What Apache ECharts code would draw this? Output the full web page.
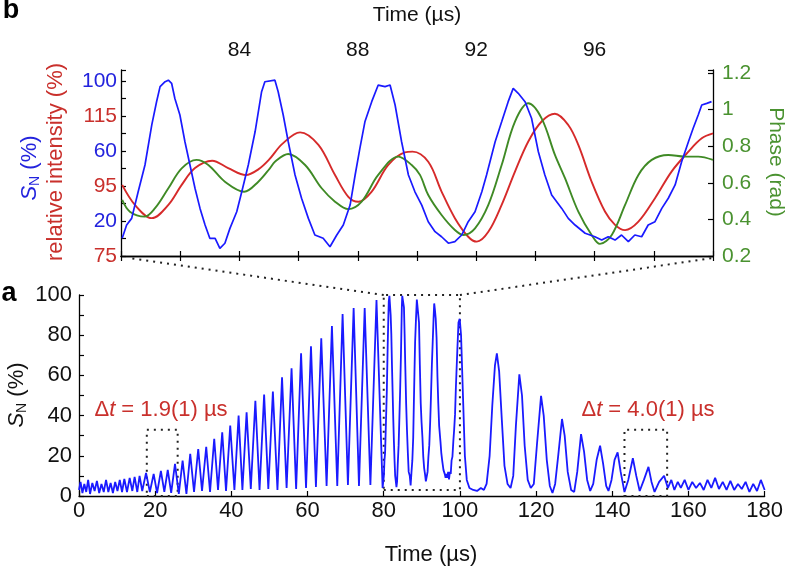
<!DOCTYPE html>
<html>
<head>
<meta charset="utf-8">
<script src="https://cdn.jsdelivr.net/npm/echarts@6/dist/echarts.min.js"></script>
<style>html,body{margin:0;padding:0;background:#fff}#c{width:786px;height:573px}</style>
</head>
<body>
<div id="c"></div>
<script>
// ---------- DATA ----------
// Panel b (zoom 80–100 µs): blue S_N (%), red relative intensity (%), green phase (rad)
const zoomBlue = [[80.04,10.1],[80.19,17.7],[80.36,21.5],[80.58,36.7],[80.81,52],[81.04,74.9],[81.2,88],[81.32,96.8],[81.49,99.6],[81.6,100.5],[81.71,98.7],[81.82,90],[81.99,80.6],[82.16,65.3],[82.33,52],[82.5,38.7],[82.67,27.2],[82.84,17.7],[83.0,10.1],[83.18,10.1],[83.34,4.4],[83.51,7.3],[83.68,15.8],[83.91,25.3],[84.08,36.7],[84.3,52],[84.53,71],[84.75,93.9],[84.86,99.6],[85.2,100.5],[85.31,93.9],[85.48,80.6],[85.65,65.3],[85.88,46.3],[86.1,33],[86.33,21.5],[86.55,12],[86.83,10.1],[87.06,5.3],[87.29,12],[87.51,17.7],[87.74,29.1],[87.91,46.3],[88.07,61.5],[88.24,76.7],[88.47,88.2],[88.69,97.7],[88.92,96.8],[89.09,97.7],[89.26,86.3],[89.48,65.3],[89.71,46.3],[89.93,36.7],[90.16,29.1],[90.38,19.6],[90.61,13.9],[90.83,11],[91.06,7.3],[91.28,8.2],[91.51,12],[91.73,19.6],[91.96,25.3],[92.19,36.7],[92.35,46.3],[92.64,65.3],[92.86,76.7],[93.08,88.2],[93.25,95.8],[93.42,93],[93.65,88.2],[93.87,78.7],[94.1,59.6],[94.32,46.3],[94.55,34.9],[94.89,27.2],[95.11,21.5],[95.34,17.7],[95.68,13],[96.01,11],[96.24,9.1],[96.46,11],[96.69,9.1],[96.91,12],[97.14,8.2],[97.36,12],[97.59,11],[97.81,17.7],[98.04,19.6],[98.27,27.2],[98.49,33],[98.72,40.6],[98.94,53.9],[99.17,65.3],[99.33,73],[99.5,80.6],[99.62,86.3],[99.79,87.2],[99.95,88.2]];
const zoomRed = [[80.04,95.3],[80.47,89.6],[81.04,85.8],[81.6,89.6],[82.05,95.3],[82.5,100.1],[83.08,102.2],[83.62,100.1],[84.22,98.1],[84.65,99.8],[85.0,102.5],[85.45,107],[86.05,110.3],[86.67,106.7],[87.23,98.1],[87.68,91.9],[88.02,90.5],[88.47,93.4],[89.03,101],[89.59,104.6],[89.85,104.8],[90.38,101.9],[90.83,93.4],[91.28,85.8],[91.73,80.5],[92.02,79.1],[92.41,81.9],[92.86,89.6],[93.31,99.1],[93.76,107.7],[94.21,113.4],[94.66,115.6],[95.11,112.4],[95.45,106.7],[95.9,96.2],[96.35,87.7],[96.69,83.9],[97.03,82.4],[97.48,84.8],[98.04,91.5],[98.6,99.1],[99.17,104.8],[99.62,108.6],[100,110]];
const zoomGreen = [[80.04,0.506],[80.3,0.442],[80.8,0.415],[81.15,0.461],[81.6,0.57],[82.05,0.679],[82.55,0.725],[82.95,0.697],[83.51,0.606],[84.16,0.551],[84.64,0.606],[85.03,0.679],[85.2,0.715],[85.65,0.757],[86.22,0.697],[86.78,0.57],[87.23,0.497],[87.68,0.456],[88.13,0.497],[88.69,0.643],[89.37,0.743],[89.82,0.697],[90.1,0.643],[90.38,0.533],[90.83,0.424],[91.28,0.342],[91.57,0.315],[91.96,0.351],[92.41,0.479],[92.86,0.697],[93.31,0.934],[93.76,1.034],[94.21,0.952],[94.66,0.752],[95.0,0.625],[95.45,0.442],[95.9,0.315],[96.18,0.266],[96.58,0.315],[97.03,0.479],[97.48,0.643],[97.93,0.725],[98.49,0.752],[99.05,0.743],[99.5,0.743],[100,0.725]];
// Panel a (0–180 µs): S_N (%) before and after the zoomed window
const overviewEarly = [[0,3],[0.4,7],[0.9,1.5],[1.4,6],[1.9,2],[2.4,8],[2.9,1],[3.5,6.5],[4.1,2.5],[4.7,7.5],[5.3,1.5],[5.9,6],[6.5,2],[7.1,8],[7.7,2],[8.3,6.5],[8.9,1.5],[9.5,7],[10.1,2.5],[10.7,8],[11.3,2],[11.9,8.5],[12.6,2],[13.3,9],[14.0,2.5],[14.6,9.5],[15.3,2],[15.9,10],[16.6,2.5],[17.6,11.5],[18.6,2],[19.6,11],[20.5,1.5],[21.5,12.5],[22.4,2],[23.3,13],[24.2,1.5],[25.2,16],[26.2,1],[27.2,17.6],[28.2,1],[29.2,21],[30.2,2],[31.3,23.4],[32.3,2.5],[33.4,24.5],[34.4,2],[35.5,28.5],[36.5,3],[37.6,31.7],[38.6,2.5],[39.7,35],[40.8,3],[41.9,40],[42.9,3],[44.0,41.6],[45.1,3.5],[46.3,47.4],[47.4,3],[48.6,50.5],[49.7,3.5],[50.9,52],[52.1,3],[53.3,59],[54.5,4],[55.8,63.5],[57.0,3.5],[58.3,71],[59.6,4],[60.9,74.5],[62.2,4.5],[63.6,78.5],[65.0,5],[66.4,84.5],[67.8,5],[69.2,90.5],[70.6,5.5],[72.1,93.5],[73.5,5],[75.0,93.5],[76.5,5.5],[78.1,97.5],[79.7,4]];
const overviewLate = [[100.3,80],[100.8,50],[101.3,20],[101.8,8],[102.5,4],[103.5,3],[104.5,2.5],[105.5,4],[106.3,3],[107.0,6],[107.8,20],[108.5,45],[109.2,65],[109.7,71],[110.3,62],[111,38],[111.7,15],[112.5,6],[113.3,4],[114,10],[114.7,35],[115.6,60.5],[116.3,50],[117,25],[117.8,8],[118.6,4],[119.4,6],[120.2,25],[121.3,49.8],[122,40],[122.8,18],[123.6,5],[124.3,1.5],[125,6],[125.8,20],[126.8,38.3],[127.5,30],[128.3,12],[129.2,3],[130,2],[130.8,12],[131.8,30.8],[132.6,22],[133.4,8],[134.2,2.5],[135,6],[135.9,18],[136.8,25],[137.6,16],[138.4,5],[139,2.5],[139.8,8],[140.6,18],[141.4,21.7],[142.2,12],[143.2,2],[144.2,8],[145.4,18.8],[146.3,10],[147.2,2.5],[148.3,8],[149.5,14.5],[150.3,7],[151.1,2],[152.3,7],[153.6,10.1],[154.6,4],[155.5,8],[156.3,3],[157.2,7],[158,4],[159,8],[160,3],[161,7],[162,4],[163,6.5],[164,3],[165,8],[166,4],[167,9],[168,3.5],[169,7],[170,3],[171,7.5],[172,3],[173,6],[174,3.5],[175,7],[176,2],[177,6],[178,2.5],[179,8],[180,3]];
// Tick labels
const zoomTimeLabels = [84, 88, 92, 96];
const sNLabels = [20, 60, 100];
const intensityLabels = [75, 95, 115];
const phaseLabels = [0.2, 0.4, 0.6, 0.8, 1, 1.2];
const overviewTimeLabels = [0, 20, 40, 60, 80, 100, 120, 140, 160, 180];
const overviewSNLabels = [0, 20, 40, 60, 80, 100];
// Marked windows (µs) and their heights (%)
const boxes = [[17.8, 25.9, 0, 33], [143.2, 154.4, 0, 33], [80, 100, 3, 100]];
const annotations = ['1.9(1)', '4.0(1)'];

// ---------- CHART ----------
const FONT = 'Liberation Sans, Arial, Helvetica, sans-serif';
const BLUE = '#1a1aff', RED = '#d62a2a', GREEN = '#3f8a25';
const RED_T = '#c9302c', GREEN_T = '#4a9230', BLUE_T = '#2323dd';
const near = (v, arr) => arr.some(a => Math.abs(a - v) < 1e-6);
const fmt = arr => v => near(v, arr) ? String(+(+v).toFixed(1)) : '';
const blackLine = {show: true, lineStyle: {color: '#000', width: 1.3}};
const inTick = {show: true, inside: true, length: 5, lineStyle: {color: '#000', width: 1.2}};

const chart = echarts.init(document.getElementById('c'), null, {renderer: 'canvas'});
const overview = overviewEarly.concat(zoomBlue, overviewLate);

chart.setOption({
  animation: false,
  backgroundColor: '#fff',
  grid: [
    {left: 121, top: 70, width: 592, height: 186, show: false},
    {left: 79, top: 295, width: 688, height: 201, show: false}
  ],
  xAxis: [
    {gridIndex: 0, type: 'value', position: 'top', min: 80, max: 100, interval: 2,
     axisLine: blackLine, axisTick: inTick, splitLine: {show: false},
     axisLabel: {formatter: fmt(zoomTimeLabels), fontSize: 21, color: '#111', margin: 9, fontFamily: FONT}},
    {gridIndex: 0, type: 'value', position: 'bottom', min: 80, max: 100, interval: 2,
     axisLine: blackLine, axisTick: inTick, splitLine: {show: false}, axisLabel: {show: false}},
    {gridIndex: 1, type: 'value', min: 0, max: 180, interval: 20,
     axisLine: blackLine, axisTick: inTick, splitLine: {show: false},
     axisLabel: {formatter: fmt(overviewTimeLabels), fontSize: 22, color: '#111', margin: 4, fontFamily: FONT}}
  ],
  yAxis: [
    {gridIndex: 0, type: 'value', position: 'left', min: 0, max: 106.3, interval: 10,
     axisLine: blackLine, axisTick: inTick, splitLine: {show: false},
     axisLabel: {formatter: fmt(sNLabels), fontSize: 21, color: BLUE_T, margin: 4, fontFamily: FONT}},
    {gridIndex: 0, type: 'value', position: 'left', min: 75, max: 128.1, interval: 20,
     axisLine: {show: false}, axisTick: {show: false}, splitLine: {show: false},
     axisLabel: {formatter: fmt(intensityLabels), fontSize: 21, color: RED_T, margin: 4, fontFamily: FONT}},
    {gridIndex: 0, type: 'value', position: 'right', min: 0.2, max: 1.216, interval: 0.2,
     axisLine: blackLine, axisTick: inTick, splitLine: {show: false},
     axisLabel: {formatter: fmt(phaseLabels), fontSize: 21, color: GREEN_T, margin: 9, fontFamily: FONT}},
    {gridIndex: 1, type: 'value', min: 0, max: 100, interval: 10,
     axisLine: blackLine, axisTick: inTick, splitLine: {show: false},
     axisLabel: {formatter: fmt(overviewSNLabels), fontSize: 22, color: '#111', margin: 7, fontFamily: FONT}}
  ],
  series: [
    {type: 'line', xAxisIndex: 0, yAxisIndex: 1, data: zoomRed, smooth: 0.35, showSymbol: false,
     lineStyle: {color: RED, width: 1.9}, z: 3},
    {type: 'line', xAxisIndex: 0, yAxisIndex: 2, data: zoomGreen, smooth: 0.35, showSymbol: false,
     lineStyle: {color: GREEN, width: 1.9}, z: 3},
    {type: 'line', xAxisIndex: 0, yAxisIndex: 0, data: zoomBlue, showSymbol: false,
     lineStyle: {color: BLUE, width: 1.7}, z: 4},
    {type: 'line', xAxisIndex: 2, yAxisIndex: 3, data: overview, showSymbol: false,
     lineStyle: {color: BLUE, width: 1.8}, z: 3,
     markArea: {silent: true,
       itemStyle: {color: 'rgba(0,0,0,0)', borderColor: '#222', borderWidth: 2, borderType: [2, 5]},
       data: boxes.map(b => [{xAxis: b[0], yAxis: b[2]}, {xAxis: b[1], yAxis: b[3]}])}}
  ]
});

// connectors between the zoom window in panel a and panel b
const pA1 = chart.convertToPixel({xAxisIndex: 2, yAxisIndex: 3}, [boxes[2][0], boxes[2][3]]);
const pA2 = chart.convertToPixel({xAxisIndex: 2, yAxisIndex: 3}, [boxes[2][1], boxes[2][3]]);
const pB1 = chart.convertToPixel({xAxisIndex: 1, yAxisIndex: 0}, [80, 0]);
const pB2 = chart.convertToPixel({xAxisIndex: 1, yAxisIndex: 0}, [100, 0]);
const dotted = {stroke: '#222', lineWidth: 2, lineDash: [2, 5]};

const subS = (col) => ({
  text: '{s|S}{n|N}{p| (%)}',
  fill: col,
  rich: {
    s: {fontStyle: 'italic', fontSize: 22, fontFamily: FONT, fill: col, lineHeight: 24},
    n: {fontSize: 14, fontFamily: FONT, fill: col, verticalAlign: 'bottom', lineHeight: 10},
    p: {fontSize: 22, fontFamily: FONT, fill: col, lineHeight: 24}
  },
  align: 'center', verticalAlign: 'middle'
});
const dtText = (v) => '{a|Δ}{t|t}{a| = ' + v + ' µs}';
const dtRich = {a: {fontSize: 22, fontFamily: FONT, fill: RED_T}, t: {fontSize: 22, fontFamily: FONT, fontStyle: 'italic', fill: RED_T}};

chart.setOption({
  graphic: {elements: [
    {type: 'line', shape: {x1: pA1[0], y1: pA1[1], x2: pB1[0] + 8, y2: pB1[1] + 2}, style: dotted, z: 1},
    {type: 'line', shape: {x1: pA2[0], y1: pA2[1], x2: pB2[0], y2: pB2[1] + 2}, style: dotted, z: 1},
    {type: 'text', x: 11, y: 11, style: {text: 'b', font: 'bold 27px ' + FONT, fill: '#000', align: 'center', verticalAlign: 'middle'}},
    {type: 'text', x: 9, y: 294, style: {text: 'a', font: 'bold 27px ' + FONT, fill: '#000', align: 'center', verticalAlign: 'middle'}},
    {type: 'text', x: 417, y: 15, style: {text: 'Time (µs)', font: '21px ' + FONT, fill: '#111', align: 'center', verticalAlign: 'middle'}},
    {type: 'text', x: 431, y: 555, style: {text: 'Time (µs)', font: '22px ' + FONT, fill: '#111', align: 'center', verticalAlign: 'middle'}},
    {type: 'text', x: 30, y: 168, rotation: Math.PI / 2, style: subS(BLUE_T)},
    {type: 'text', x: 17, y: 395, rotation: Math.PI / 2, style: subS('#111')},
    {type: 'text', x: 56, y: 162, rotation: Math.PI / 2,
     style: {text: 'relative intensity (%)', font: '22px ' + FONT, fill: RED_T, align: 'center', verticalAlign: 'middle'}},
    {type: 'text', x: 776, y: 162, rotation: -Math.PI / 2,
     style: {text: 'Phase (rad)', font: '21px ' + FONT, fill: GREEN_T, align: 'center', verticalAlign: 'middle'}},
    {type: 'text', x: 161, y: 410, style: {text: dtText(annotations[0]), rich: dtRich, fill: RED_T, align: 'center', verticalAlign: 'middle'}},
    {type: 'text', x: 648, y: 410, style: {text: dtText(annotations[1]), rich: dtRich, fill: RED_T, align: 'center', verticalAlign: 'middle'}}
  ]}
});
</script>
</body>
</html>
